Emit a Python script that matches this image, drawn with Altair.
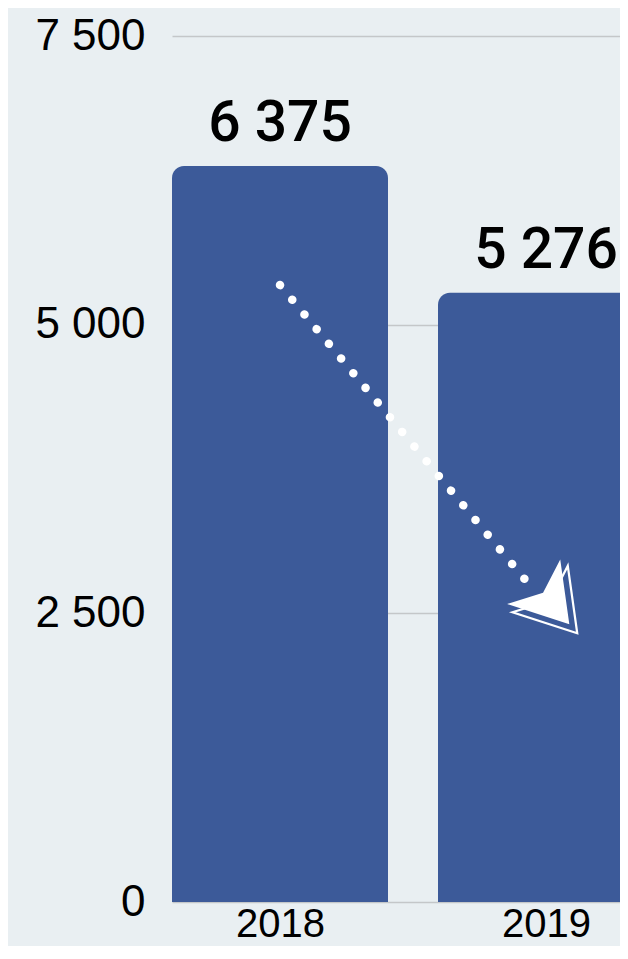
import altair as alt
import pandas as pd

years = [2018, 2019]
values = [6375, 5276]
labels = [f"{v:,}".replace(",", " ") for v in values]

# annotation arrow (in year / value units)
arrow_line_x = [2018.0, 2018.929]
arrow_line_y = [5343, 2771]
arrow_head_x = [2019.004]
arrow_head_y = [2636]

df = pd.DataFrame({"year": years, "value": values, "label": labels})
line_df = pd.DataFrame({"year": arrow_line_x, "value": arrow_line_y})
head_df = pd.DataFrame({"year": arrow_head_x, "value": arrow_head_y})

BAR = "#3c5a99"
PLOT_W = 448
HALF = 108 / 266  # half bar width in year units
xscale = alt.Scale(domain=[2018 - HALF, 2018 - HALF + PLOT_W / 266], nice=False, zero=False,
                   padding=0)
yscale = alt.Scale(domain=[0, 7500], nice=False, padding=0)

xaxis = alt.Axis(values=years, format="d", labelAngle=0, labelFontSize=40,
                 labelFont="Liberation Sans", labelColor="#000000", domain=False,
                 ticks=False, labelPadding=2, grid=False, labelFlush=False,
                 labelOverlap=False, labelBound=False)
yaxis = alt.Axis(values=[0, 2500, 5000, 7500], labelFontSize=44,
                 labelFont="Liberation Sans", labelColor="#000000",
                 labelExpr="replace(format(datum.value, ','), ',', ' ')",
                 domain=False, ticks=False, labelPadding=27,
                 grid=True, gridColor="#c4c7c9", gridWidth=1.5)

bars = alt.Chart(df).transform_calculate(
    x0=f"datum.year - {HALF}", x1=f"datum.year + {HALF}"
).mark_bar(color=BAR, cornerRadiusTopLeft=12, cornerRadiusTopRight=12, clip=True,
           orient="vertical").encode(
    x=alt.X("x0:Q", scale=xscale, axis=xaxis, title=None),
    x2="x1:Q",
    y=alt.Y("value:Q", scale=yscale, axis=yaxis, title=None),
    y2=alt.datum(0))

texts = alt.Chart(df).mark_text(dy=-25, baseline="alphabetic", font="Roboto", fontSize=57,
                                fontWeight=500, color="#000000").encode(
    x=alt.X("year:Q", scale=xscale, title=None),
    y=alt.Y("value:Q", scale=yscale, title=None),
    text="label:N")

dots = alt.Chart(line_df).mark_line(color="white", strokeWidth=8.5, strokeCap="round",
                                    strokeDash=[0.1, 19], clip=True).encode(
    x=alt.X("year:Q", scale=xscale, title=None),
    y=alt.Y("value:Q", scale=yscale, title=None))

shape = "M0,-1 L1,0.6 L0,0.18 L-1,0.6 Z"
head_outline = alt.Chart(head_df).mark_point(shape=shape, size=5200, angle=140, filled=False,
                                             stroke="white", strokeWidth=2.2, opacity=1,
                                             xOffset=7, yOffset=8).encode(
    x=alt.X("year:Q", scale=xscale, title=None),
    y=alt.Y("value:Q", scale=yscale, title=None))
head = alt.Chart(head_df).mark_point(shape=shape, size=4800, angle=140, filled=True,
                                     fill="white", opacity=1, strokeWidth=0).encode(
    x=alt.X("year:Q", scale=xscale, title=None),
    y=alt.Y("value:Q", scale=yscale, title=None))

chart = alt.layer(bars, texts, dots, head_outline, head).properties(
    width=PLOT_W, height=866, autosize="none",
    padding={"left": 164, "top": 28, "right": 0, "bottom": 44},
    background="#e9eff2",
).configure_view(stroke=None)

chart.save("out.html", embed_options={"renderer": "svg", "actions": False})
